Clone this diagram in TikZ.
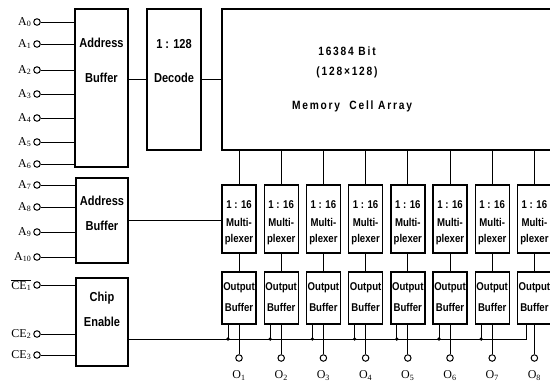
\documentclass[tikz,border=0pt]{standalone}
\usepackage{fontspec}
\setmainfont{Liberation Serif}
\newfontfamily\boxfont[FakeStretch=0.85]{Liberation Sans}
\newfontfamily\memfont[FakeStretch=0.85,LetterSpace=15]{Liberation Sans}
\begin{document}
\begin{tikzpicture}[x=1pt,y=-1pt,line width=0.9pt,
  blk/.style={draw, line width=1.4pt, inner sep=0pt},
  term/.style={circle, draw, line width=1pt, fill=white, inner sep=0pt, minimum size=6.5pt},
  btxt/.style={font=\boxfont\bfseries\fontsize{13}{13}\selectfont, inner sep=0pt, text height=8.5pt, text depth=1pt},
  stxt/.style={font=\boxfont\bfseries\fontsize{11.3}{11}\selectfont, inner sep=0pt, text height=8pt, text depth=1pt},
  mtxt/.style={font=\memfont\bfseries\fontsize{12}{12}\selectfont, inner sep=0pt, text height=8pt, text depth=1pt},
  lab/.style={font=\fontsize{12}{12}\selectfont, inner sep=0pt},
  junc/.style={circle, fill, inner sep=0pt, minimum size=3.6pt}]
  \useasboundingbox (0,0) rectangle (550,384);
  \clip (0,0) rectangle (550,384);
  % Row address buffer and decoder
  \node[blk, minimum width=53pt, minimum height=158pt] (ab1) at (101.5,88) {};
  \node[btxt] (ab1a) at (101.5,44) {Address};
  \node[btxt] (ab1b) at (101.5,79) {Buffer};
  \node[blk, minimum width=54pt, minimum height=141pt] (dec) at (174,79.5) {};
  \node[btxt] (deca) at (174,45) {1 : 128};
  \node[btxt] (decb) at (174,79) {Decode};
  % Memory cell array
  \node[blk, minimum width=358pt, minimum height=141pt] (mem) at (401,79.5) {};
  \node[mtxt] (mema) at (347,52) {16384 Bit};
  \node[mtxt] (memb) at (347,72) {(128×128)};
  \node[mtxt] (memc) at (352,106) {Memory\ \ Cell Array};
  \draw (ab1.east |- dec) -- (dec.west);
  \draw (dec.east) -- (dec.east -| mem.west);
  % Row address inputs
  \foreach \n/\y in {0/22, 1/44, 2/70, 3/94, 4/118, 5/142, 6/164} {
    \node[term] (a\n) at (37,\y) {};
    \node[lab, anchor=east] (la\n) at ([xshift=-1.5pt]a\n.west) {A\textsubscript{\n}};
    \draw (a\n) -- (a\n -| ab1.west);
  }
  % Column address buffer
  \node[blk, minimum width=52pt, minimum height=85pt] (ab2) at (102,220.5) {};
  \node[btxt] (ab2a) at (102,202) {Address};
  \node[btxt] (ab2b) at (102,227) {Buffer};
  \foreach \n/\y in {7/185, 8/207, 9/232, 10/257} {
    \node[term] (a\n) at (37,\y) {};
    \node[lab, anchor=east] (la\n) at ([xshift=-1.5pt]a\n.west) {A\textsubscript{\n}};
    \draw (a\n) -- (a\n -| ab2.west);
  }
  % Chip enable
  \node[blk, minimum width=52pt, minimum height=88pt] (ce) at (102,322) {};
  \node[btxt] (cea) at (102,298) {Chip};
  \node[btxt] (ceb) at (102,323) {Enable};
  \foreach \n/\y/\lab in {1/285/{$\overline{\mbox{CE\textsubscript{1}}}$}, 2/334/{CE\textsubscript{2}}, 3/355/{CE\textsubscript{3}}} {
    \node[term] (ce\n) at (37,\y) {};
    \node[lab, anchor=east] (lce\n) at ([xshift=-1.5pt]ce\n.west) {\lab};
    \draw (ce\n) -- (ce\n -| ce.west);
  }
  \coordinate (bus) at (0,339);
  % Multiplexers and output buffers
  \foreach \i [evaluate=\i as \cx using 239+42.2*(\i-1)] in {1,...,8} {
    \node[blk, minimum width=34pt, minimum height=68pt] (mux\i) at (\cx,219) {};
    \node[stxt] (muxa\i) at (\cx,205) {1 : 16};
    \node[stxt] (muxb\i) at (\cx,223) {Multi-};
    \node[stxt] (muxc\i) at (\cx,239) {plexer};
    \node[blk, minimum width=34pt, minimum height=52pt] (ob\i) at (\cx,298) {};
    \node[stxt] (oba\i) at (\cx,287) {Output};
    \node[stxt] (obb\i) at (\cx,308) {Buffer};
    \node[term] (o\i) at (\cx,358) {};
    \node[lab] (ol\i) at (\cx,375.5) {O\textsubscript{\i}};
    \draw (mux\i.north |- mem.south) -- (mux\i.north);
    \draw (mux\i) -- (ob\i);
    \draw (ob\i) -- (o\i);
  }
  \draw (ab2.east) -- (ab2.east -| mux1.west);
  % Chip enable bus
  \draw (ce.east |- bus) -| ([xshift=-8pt]ob8.south);
  \foreach \i in {1,...,7} {
    \draw ([xshift=-11pt]ob\i.south) -- ([xshift=-11pt]ob\i.south |- bus) node[junc] (j\i) {};
  }
\end{tikzpicture}
\end{document}
